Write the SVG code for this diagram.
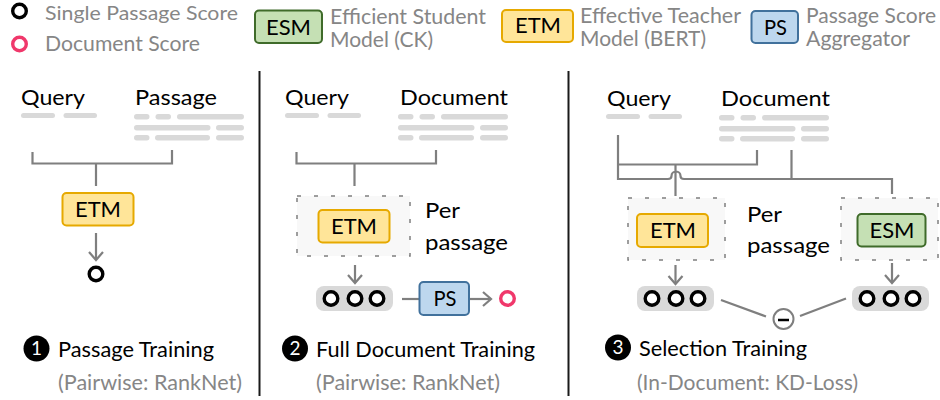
<svg xmlns="http://www.w3.org/2000/svg" width="940" height="400" viewBox="0 0 940 400">
<style>
text{font-family:"Lato","Open Sans","Liberation Sans",sans-serif;font-size:21px;fill:#000}
.g{fill:#868686}
.c{text-anchor:middle}
.num{fill:#fff;font-size:19px;text-anchor:middle}
.etm{fill:#ffe599;stroke:#e6a900;stroke-width:2}
.esm{fill:#c5e0b4;stroke:#3f6b2a;stroke-width:2}
.ps{fill:#bdd7ee;stroke:#41719c;stroke-width:2}
.s{fill:#fff;stroke:#000;stroke-width:3.4}
.d{fill:#fff;stroke:#f0386b;stroke-width:3.4}
.bar{fill:#d9d9d9}
.pill{fill:#d9d9d9}
.dash{fill:#f8f8f8;stroke:#7f7f7f;stroke-width:1.5;stroke-dasharray:4 13}
.w{fill:none;stroke:#7f7f7f;stroke-width:2.2}
.a{fill:none;stroke:#7f7f7f;stroke-width:2.2;marker-end:url(#ah)}
.div{stroke:#1a1a1a;stroke-width:2}
</style>
<defs>
<marker id="ah" markerUnits="userSpaceOnUse" markerWidth="18" markerHeight="18" refX="13" refY="9" orient="auto">
<path d="M5 2 L13 9 L5 16" fill="none" stroke="#7f7f7f" stroke-width="2.2"/>
</marker>
<g id="bq"><rect x="0" y="0" width="34" height="5" rx="2.5" class="bar"/><rect x="42.500" y="0" width="33.500" height="5" rx="2.500" class="bar"/></g>
<g id="bd">
<rect x="0" y="0" width="15.500" height="5.500" rx="2.700" class="bar"/><rect x="21.500" y="0" width="15.500" height="5.500" rx="2.700" class="bar"/><rect x="43" y="0" width="67" height="5.500" rx="2.700" class="bar"/>
<rect x="0" y="11" width="76.500" height="5.500" rx="2.700" class="bar"/><rect x="82" y="11" width="28" height="5.500" rx="2.700" class="bar"/>
<rect x="0" y="21" width="15.500" height="5.500" rx="2.700" class="bar"/><rect x="21" y="21" width="55" height="5.500" rx="2.700" class="bar"/><rect x="82" y="21" width="28" height="5.500" rx="2.700" class="bar"/>
</g>
<g id="trio"><rect x="0" y="0" width="77" height="25" rx="8" class="pill"/><circle cx="15" cy="12.500" r="6.800" class="s"/><circle cx="39" cy="12.500" r="6.800" class="s"/><circle cx="61" cy="12.500" r="6.800" class="s"/></g>
</defs>

<g id="connectors">
<path class="w" d="M32.500 152V163.500H172V150M96 163.500V186"/>
<path class="a" d="M96 233V260"/>
<path class="w" d="M296.500 152V163.500H436V150M354.500 163.500V186"/>
<path class="a" d="M355 265V283"/>
<path class="w" d="M402 299H420"/>
<path class="a" d="M469 299H491"/>
<path class="w" d="M618 135V179H668Q671.500 179 671.500 176A4.500 4.500 0 0 1 680.500 176Q680.500 179 684 179H892V194M618 164.500H757V150M791.500 150V179M675.500 164.500V196"/>
<path class="a" d="M675.500 265V284"/>
<path class="a" d="M892 263V283"/>
<path class="w" d="M721 300L766 316.500M846 298.500L800 316"/>
</g>

<g id="dividers"><path class="div" d="M259.500 71V396M568.500 71V396"/></g>

<g id="legend-single"><circle cx="19.500" cy="11" r="6.800" class="s"/><text class="g" style="font-size:20px" x="45" y="20" textLength="193" lengthAdjust="spacingAndGlyphs">Single Passage Score</text></g>
<g id="legend-doc"><circle cx="19.500" cy="44" r="6.800" class="d"/><text class="g" x="45" y="51" textLength="155" lengthAdjust="spacingAndGlyphs">Document Score</text></g>
<g id="legend-esm"><rect x="255" y="10.500" width="67" height="32.500" rx="4" class="esm"/><text class="c" x="288.500" y="35" textLength="45" lengthAdjust="spacingAndGlyphs">ESM</text>
<text class="g" x="330" y="24" textLength="156" lengthAdjust="spacingAndGlyphs">Efficient Student</text><text class="g" x="330" y="47" textLength="103" lengthAdjust="spacingAndGlyphs">Model (CK)</text></g>
<g id="legend-etm"><rect x="502" y="10" width="71" height="32" rx="4" class="etm"/><text class="c" x="538" y="33" textLength="46" lengthAdjust="spacingAndGlyphs">ETM</text>
<text class="g" x="580" y="22.500" textLength="161" lengthAdjust="spacingAndGlyphs">Effective Teacher</text><text class="g" x="580" y="45.500" textLength="126" lengthAdjust="spacingAndGlyphs">Model (BERT)</text></g>
<g id="legend-ps"><rect x="751.500" y="11" width="46.500" height="32" rx="4" class="ps"/><text class="c" x="775.500" y="34.500" textLength="23" lengthAdjust="spacingAndGlyphs">PS</text>
<text class="g" x="806" y="23" textLength="130" lengthAdjust="spacingAndGlyphs">Passage Score</text><text class="g" x="806" y="46" textLength="104" lengthAdjust="spacingAndGlyphs">Aggregator</text></g>

<g id="p1-query"><text x="21" y="105" textLength="64" lengthAdjust="spacingAndGlyphs">Query</text><use href="#bq" x="21" y="113"/></g>
<g id="p1-passage"><text x="135" y="105" textLength="82" lengthAdjust="spacingAndGlyphs">Passage</text><use href="#bd" x="134" y="114"/></g>
<g id="p1-etm"><rect x="62.500" y="193" width="71" height="32.500" rx="4" class="etm"/><text class="c" x="98" y="217" textLength="46" lengthAdjust="spacingAndGlyphs">ETM</text></g>
<g id="p1-score"><circle cx="96" cy="274" r="6.800" class="s"/></g>
<g id="p1-label"><circle cx="36.500" cy="348.500" r="13"/><text class="num" x="36.500" y="355">1</text><text x="58" y="357" textLength="156" lengthAdjust="spacingAndGlyphs">Passage Training</text><text class="g" x="58" y="390" textLength="184" lengthAdjust="spacingAndGlyphs">(Pairwise: RankNet)</text></g>

<g id="p2-query"><text x="285" y="105" textLength="64" lengthAdjust="spacingAndGlyphs">Query</text><use href="#bq" x="285" y="113"/></g>
<g id="p2-document"><text x="400" y="105" textLength="108" lengthAdjust="spacingAndGlyphs">Document</text><use href="#bd" x="398" y="114"/></g>
<g id="p2-per"><rect x="297" y="196" width="113" height="60" class="dash"/><rect x="318.500" y="210" width="71" height="32.500" rx="4" class="etm"/><text class="c" x="354" y="234" textLength="46" lengthAdjust="spacingAndGlyphs">ETM</text>
<text x="425" y="218" textLength="35" lengthAdjust="spacingAndGlyphs">Per</text><text x="425" y="250" textLength="83" lengthAdjust="spacingAndGlyphs">passage</text></g>
<g id="p2-scores"><use href="#trio" x="316" y="286"/></g>
<g id="p2-ps"><rect x="419.500" y="282" width="49.500" height="33" rx="4" class="ps"/><text class="c" x="445" y="306" textLength="23" lengthAdjust="spacingAndGlyphs">PS</text></g>
<g id="p2-doc-score"><circle cx="507.500" cy="298.500" r="6.800" class="d"/></g>
<g id="p2-label"><circle cx="295" cy="348.500" r="13"/><text class="num" x="295" y="355">2</text><text x="316" y="357" textLength="219" lengthAdjust="spacingAndGlyphs">Full Document Training</text><text class="g" x="316" y="390" textLength="184" lengthAdjust="spacingAndGlyphs">(Pairwise: RankNet)</text></g>

<g id="p3-query"><text x="607" y="106" textLength="64" lengthAdjust="spacingAndGlyphs">Query</text><use href="#bq" x="606" y="114"/></g>
<g id="p3-document"><text x="721" y="106" textLength="109" lengthAdjust="spacingAndGlyphs">Document</text><use href="#bd" x="719" y="115"/></g>
<g id="p3-etm"><rect x="628" y="198" width="97" height="62" class="dash"/><rect x="637" y="214" width="71" height="33" rx="4" class="etm"/><text class="c" x="673" y="238" textLength="46" lengthAdjust="spacingAndGlyphs">ETM</text></g>
<g id="p3-per"><text x="747" y="222" textLength="35" lengthAdjust="spacingAndGlyphs">Per</text><text x="747" y="253" textLength="83" lengthAdjust="spacingAndGlyphs">passage</text></g>
<g id="p3-esm"><rect x="841" y="198" width="97" height="62" class="dash"/><rect x="857.500" y="214" width="68" height="32.500" rx="4" class="esm"/><text class="c" x="892" y="238" textLength="45" lengthAdjust="spacingAndGlyphs">ESM</text></g>
<g id="p3-scores-a"><use href="#trio" x="637" y="286"/></g>
<g id="p3-scores-b"><use href="#trio" x="852" y="286"/></g>
<g id="p3-minus"><circle cx="783.500" cy="319" r="10" fill="#fff" stroke="#7f7f7f" stroke-width="2"/><path d="M778 320H789" stroke="#000" stroke-width="2.500"/></g>
<g id="p3-label"><circle cx="618" cy="347.500" r="13"/><text class="num" x="618" y="354">3</text><text x="639" y="356" textLength="168" lengthAdjust="spacingAndGlyphs">Selection Training</text><text class="g" x="637" y="390" textLength="221" lengthAdjust="spacingAndGlyphs">(In-Document: KD-Loss)</text></g>
</svg>
